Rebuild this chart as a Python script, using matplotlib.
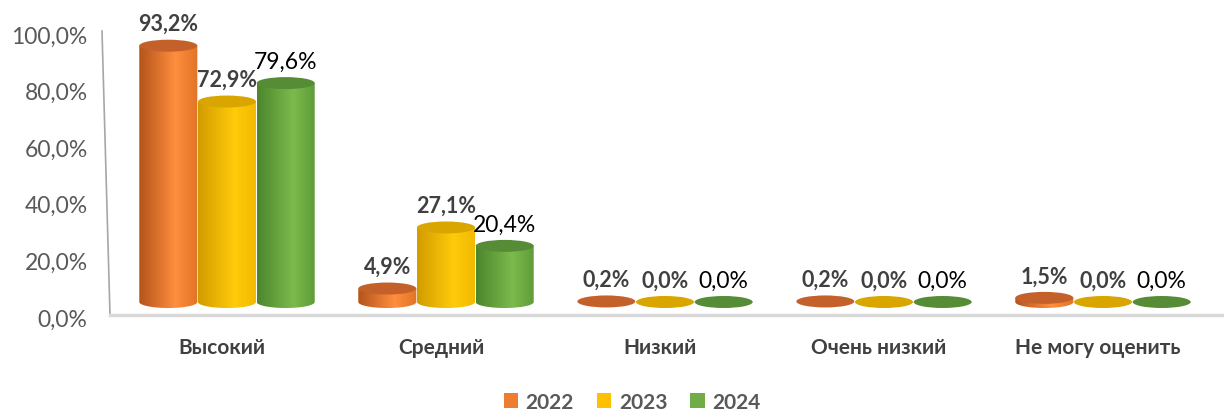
import matplotlib
matplotlib.use('Agg')
import matplotlib.pyplot as plt
import numpy as np
from matplotlib.patches import Ellipse, PathPatch, Patch
from matplotlib.path import Path
from matplotlib.colors import LinearSegmentedColormap
from matplotlib.lines import Line2D

categories = ['Высокий', 'Средний', 'Низкий', 'Очень низкий', 'Не могу оценить']
years = ['2022', '2023', '2024']
v2022 = [93.2, 4.9, 0.2, 0.2, 1.5]
v2023 = [72.9, 27.1, 0.0, 0.0, 0.0]
v2024 = [79.6, 20.4, 0.0, 0.0, 0.0]
yticks = [0, 20, 40, 60, 80, 100]

series = [v2022, v2023, v2024]
legend_colors = ['#ED7D31', '#FFC000', '#70AD47']
# left edge, highlight, right edge, top cap
shades = [('#B4531A', '#FF8E3E', '#E27426', '#C4612A'),
          ('#D29C00', '#FFCB0A', '#F2B900', '#D9A600'),
          ('#4C862D', '#7CBA4C', '#5E9B3A', '#578C37')]
label_bold = [True, True, False]
label_color = ['#404040', '#404040', '#000000']
label_size = [15.5, 15.5, 16.5]

plt.rcParams['font.family'] = ['Lato', 'DejaVu Sans']

W, H = 1224, 414
fig = plt.figure(figsize=(W / 100, H / 100), dpi=100)

def frac(x0, y0, x1, y1):
    return [x0 / W, 1 - y1 / H, (x1 - x0) / W, (y1 - y0) / H]

# axis with the tick labels: 0% at y=318, 100% at y=35
ax = fig.add_axes(frac(100, 35, 1224, 318))
ax.set_ylim(0, 100)
ax.set_xlim(0, 1)
ax.set_yticks(yticks)
ax.set_yticklabels(['{:.1f}%'.format(t).replace('.', ',') for t in yticks],
                   fontsize=16.5, color='#595959')
ax.tick_params(axis='y', length=0, pad=9)
ax.set_xticks([])
for s in ax.spines.values():
    s.set_visible(False)
ax.patch.set_alpha(0)

# slanted wall line and floor
fig.add_artist(Line2D([102 / W, 110 / W], [1 - 32 / H, 1 - 316 / H], color='#A6A6A6', lw=1.2))
fig.add_artist(Line2D([110 / W, 1224 / W], [1 - 316 / H, 1 - 316 / H], color='#D9D9D9', lw=2.5))

# bar axis: 0 at y=303, 2.75 px per %
scale = 2.75
ax2 = fig.add_axes(frac(100, 35, 1224, 318))
ax2.axis('off')

bw = 0.265
eh = 12 / scale
x = np.arange(len(categories))
t = np.linspace(0, np.pi, 40)
grad = np.linspace(0, 1, 200).reshape(1, -1)

for j, vals in enumerate(series):
    dark, light, right, top = shades[j]
    cmap = LinearSegmentedColormap.from_list('c%d' % j, [(0, dark), (0.62, light), (1, right)])
    for i, v in enumerate(vals):
        xc = x[i] + (j - 1) * 0.268
        x0, x1 = xc - bw / 2, xc + bw / 2
        if v >= 0.5:
            verts = [(x0, v), (x0, 0)]
            verts += [(xc - np.cos(a) * bw / 2, -np.sin(a) * eh / 2) for a in t]
            verts += [(x1, v), (x0, v)]
            clip = PathPatch(Path(verts), transform=ax2.transData, facecolor='none', edgecolor='none')
            ax2.add_patch(clip)
            im = ax2.imshow(grad, cmap=cmap, extent=[x0, x1, -eh / 2, v], aspect='auto',
                            interpolation='bilinear', zorder=2)
            im.set_clip_path(clip)
        ax2.add_patch(Ellipse((xc, v), bw, eh, facecolor=top, edgecolor='none', zorder=3))
        ax2.annotate('{:.1f}%'.format(v).replace('.', ','), (xc, v), xytext=(0, 22),
                     textcoords='offset pixels', ha='center', va='center', fontsize=label_size[j],
                     fontweight='bold' if label_bold[j] else 'normal', color=label_color[j],
                     annotation_clip=False, zorder=5)

ax2.set_ylim(-(318 - 303) / scale, (303 - 35) / scale)
ax2.set_xlim(-127 / 219, (1224 - 227) / 219)

for i, c in enumerate(categories):
    fig.text((227 + 219 * i - 5) / W, 1 - 348 / H, c, ha='center', va='center',
             fontsize=15, fontweight='bold', color='#404040')

handles = [Patch(facecolor=c, edgecolor='none') for c in legend_colors]
leg = fig.legend(handles, years, loc='center', bbox_to_anchor=(632 / W, 1 - 403 / H), ncol=3,
                 frameon=False, handlelength=0.7, handleheight=0.7, handletextpad=0.35,
                 columnspacing=1.1, prop={'size': 15, 'weight': 'bold'})
for txt in leg.get_texts():
    txt.set_color('#595959')

plt.savefig('out.png', dpi=100)
